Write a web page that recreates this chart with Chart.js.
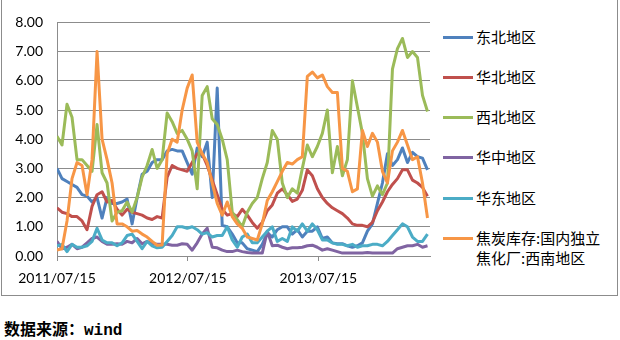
<!DOCTYPE html>
<html>
<head>
<meta charset="utf-8">
<script src="https://cdn.jsdelivr.net/npm/chart.js@4/dist/chart.umd.min.js"></script>
<style>
    body { margin: 0; width: 620px; height: 340px; background: #fff; position: relative; overflow: hidden; }
    #frame { position: absolute; left: 1px; top: -1px; width: 615px; height: 295px; border: 1px solid #8c8c8c; }
    #plot { position: absolute; left: 0; top: 0; width: 440px; height: 300px; }
    .key { position: absolute; left: 443px; width: 30px; height: 3px; }
    .name { position: absolute; left: 476px; font: 15px "Noto Sans CJK SC", sans-serif; line-height: 20px; color: #000; white-space: nowrap; }
    #source { position: absolute; left: 4px; top: 316px; font: bold 16px "Noto Sans CJK SC", sans-serif; color: #000; }
    #source span { font: bold 16px "Liberation Mono", monospace; }
</style>
</head>
<body>
<div id="frame"></div>
<div id="plot"><canvas id="stockChart"></canvas></div>
<div id="legend"></div>
<div id="source">数据来源：<span>wind</span></div>
<script>
// Coke inventory by region, sampled every two weeks from 2011/07/15
const startDate = Date.UTC(2011, 6, 15);
const sampleStep = 14; // days between samples

const tickLabels = ['2011/07/15', '2012/07/15', '2013/07/15'];
const seriesNames = ['东北地区', '华北地区', '西北地区', '华中地区', '华东地区', '焦炭库存:国内独立\n焦化厂:西南地区'];

const northeast = [3.0, 2.65, 2.55, 2.45, 2.35, 2.1, 2.05, 1.85, 2.0, 1.3,
    2.0, 1.8, 1.8, 1.85, 1.95, 1.1, 2.0, 2.8, 2.9, 3.2,
    3.3, 3.3, 3.6, 3.65, 3.6, 3.6, 3.2, 2.8, 3.7, 3.4,
    3.9, 2.0, 5.75, 1.05, 1.0, 0.75, 0.45, 0.45, 0.25, 0.2,
    0.15, 0.4, 0.8, 0.65, 0.9, 1.0, 1.0, 0.75, 0.9, 0.65,
    0.85, 0.85, 1.0, 0.6, 0.65, 0.45, 0.42, 0.42, 0.35, 0.3,
    0.35, 0.45, 0.85, 1.1, 1.8, 2.5, 3.5, 3.1, 3.3, 3.7,
    3.2, 3.55, 3.4, 3.35, 2.95];
const north = [1.65, 1.5, 1.45, 1.35, 1.35, 1.2, 0.9, 1.7, 2.1, 2.2,
    1.85, 1.9, 1.6, 1.4, 1.6, 1.5, 1.45, 1.4, 1.3, 1.25,
    1.35, 1.3, 2.7, 3.1, 3.0, 2.95, 2.9, 3.2, 3.5, 3.5,
    3.1, 2.6, 2.1, 1.6, 1.4, 1.45, 1.35, 1.6, 1.4, 1.15,
    0.95, 1.15, 1.55, 1.75, 2.15, 2.3, 2.1, 1.87, 1.95, 2.25,
    2.95, 2.75, 2.3, 2.0, 1.8, 1.65, 1.55, 1.45, 1.3, 1.1,
    1.05, 1.05, 1.0, 1.15, 1.55, 1.85, 2.2, 2.45, 2.65, 2.95,
    2.95, 2.6, 2.5, 2.35, 2.05];
const northwest = [4.1, 3.8, 5.2, 4.75, 3.3, 3.3, 3.1, 2.9, 4.5, 2.85,
    2.5, 1.2, 1.5, 1.55, 1.85, 1.5, 2.0, 2.7, 3.1, 3.65,
    3.0, 3.3, 4.9, 4.6, 4.2, 4.3, 4.0, 3.6, 2.3, 5.5,
    5.8, 4.7, 4.5, 4.0, 3.3, 1.5, 1.25, 1.0, 1.5, 1.8,
    2.0, 2.65, 3.2, 4.3, 4.0, 2.5, 2.0, 2.3, 2.15, 3.0,
    3.8, 3.4, 3.75, 4.2, 5.0, 2.85, 3.75, 2.75, 3.3, 6.0,
    5.1, 4.2, 2.65, 2.05, 2.4, 2.1, 2.5, 6.4, 7.1, 7.45,
    6.8, 7.0, 6.8, 5.5, 4.95];
const central = [0.5, 0.25, 0.3, 0.4, 0.25, 0.3, 0.45, 0.6, 0.65, 0.5,
    0.4, 0.4, 0.42, 0.4, 0.5, 0.45, 0.6, 0.42, 0.5, 0.42,
    0.4, 0.4, 0.4, 0.37, 0.37, 0.42, 0.4, 0.2, 0.45, 0.75,
    0.95, 0.3, 0.28, 0.2, 0.15, 0.15, 0.2, 0.15, 0.12, 0.1,
    0.1, 0.1, 0.85, 0.35, 0.37, 0.3, 0.25, 0.28, 0.28, 0.3,
    0.35, 0.37, 0.3, 0.2, 0.25, 0.2, 0.15, 0.1, 0.1, 0.1,
    0.1, 0.1, 0.12, 0.1, 0.1, 0.1, 0.1, 0.1, 0.25, 0.3,
    0.35, 0.35, 0.4, 0.3, 0.35];
const east = [0.35, 0.4, 0.15, 0.4, 0.3, 0.3, 0.35, 0.5, 0.95, 0.55,
    0.45, 0.45, 0.35, 0.45, 0.7, 0.75, 0.5, 0.25, 0.5, 0.35,
    0.28, 0.3, 0.5, 0.7, 1.0, 1.0, 0.95, 1.0, 0.9, 0.75,
    0.8, 0.65, 0.7, 0.7, 1.0, 0.55, 0.3, 0.65, 0.75, 0.45,
    0.45, 0.65, 0.85, 1.0, 0.5, 0.6, 0.5, 1.0, 0.85, 1.1,
    0.85, 1.1, 0.9, 0.55, 0.55, 0.45, 0.4, 0.4, 0.35, 0.4,
    0.3, 0.35, 0.35, 0.4, 0.4, 0.35, 0.5, 0.7, 0.9, 1.1,
    1.0, 0.65, 0.5, 0.5, 0.75];
const southwest = [0.2, 0.25, 1.2, 2.65, 3.2, 3.1, 2.1, 3.3, 7.0, 4.0,
    3.3, 2.5, 1.1, 1.1, 1.0, 0.85, 0.87, 0.75, 0.65, 0.5,
    0.37, 0.38, 3.5, 4.0, 3.9, 5.0, 5.75, 6.2, 3.9, 3.5,
    3.2, 2.5, 1.8, 1.4, 1.85, 1.35, 1.1, 0.95, 0.65, 0.6,
    0.55, 1.1, 1.9, 2.2, 2.55, 2.9, 3.2, 3.15, 3.3, 3.4,
    6.15, 6.3, 6.1, 6.2, 5.8, 5.6, 5.6, 3.0, 2.9, 2.2,
    2.3, 4.3, 3.75, 4.2, 3.9, 2.9, 2.5, 3.6, 3.9, 4.3,
    3.8, 3.3, 3.4, 2.5, 1.3];

const allSeries = [northeast, north, northwest, central, east, southwest];
const colors = ['#4F81BD', '#C0504D', '#9BBB59', '#8064A2', '#4BACC6', '#F79646'];

const DAY = 86400000;
const tickDays = tickLabels.map(function (s) {
    const p = s.split('/');
    return Math.round((Date.UTC(+p[0], +p[1] - 1, +p[2]) - startDate) / DAY);
});

const gridGray = '#8c8c8c';
const tickFont = { family: 'Lato', size: 14 };

const datasets = allSeries.map(function (values, k) {
    return {
        label: seriesNames[k],
        data: values.map(function (v, i) { return { x: i * sampleStep, y: v }; }),
        borderColor: colors[k],
        borderWidth: 3,
        pointRadius: 0,
        tension: 0,
        borderJoinStyle: 'round',
        order: allSeries.length - k
    };
});

new Chart(document.getElementById('stockChart').getContext('2d'), {
    type: 'line',
    data: { datasets: datasets },
    options: {
        responsive: true,
        maintainAspectRatio: false,
        animation: false,
        layout: { padding: { top: 16, right: 10, left: 0, bottom: 0 } },
        plugins: { legend: { display: false }, tooltip: { enabled: false } },
        scales: {
            x: {
                type: 'linear',
                min: 0,
                max: 1043,
                afterBuildTicks: function (scale) {
                    scale.ticks = tickDays.map(function (d) { return { value: d }; });
                },
                afterFit: function (scale) { scale.height = 44; },
                grid: { drawOnChartArea: false, color: gridGray, tickLength: 5 },
                border: { color: gridGray },
                ticks: {
                    autoSkip: false,
                    maxRotation: 0,
                    padding: 9,
                    color: '#000',
                    font: tickFont,
                    callback: function (value) { return tickLabels[tickDays.indexOf(value)]; }
                }
            },
            y: {
                min: 0,
                max: 8,
                afterFit: function (scale) { scale.width = 57; },
                grid: { color: gridGray, drawTicks: false },
                border: { color: gridGray },
                ticks: {
                    stepSize: 1,
                    padding: 14,
                    color: '#000',
                    font: tickFont,
                    callback: function (v) { return v.toFixed(2); }
                }
            }
        }
    }
});

// legend on the right
const legendRows = [37, 77, 117, 157, 198, 238];
const legend = document.getElementById('legend');
seriesNames.forEach(function (name, k) {
    const key = document.createElement('div');
    key.className = 'key';
    key.style.top = (legendRows[k] - 1.5) + 'px';
    key.style.background = colors[k];
    legend.appendChild(key);
    const text = document.createElement('div');
    text.className = 'name';
    text.style.top = (legendRows[k] - 10) + 'px';
    text.innerHTML = name.replace('\n', '<br>');
    legend.appendChild(text);
});
</script>
</body>
</html>
